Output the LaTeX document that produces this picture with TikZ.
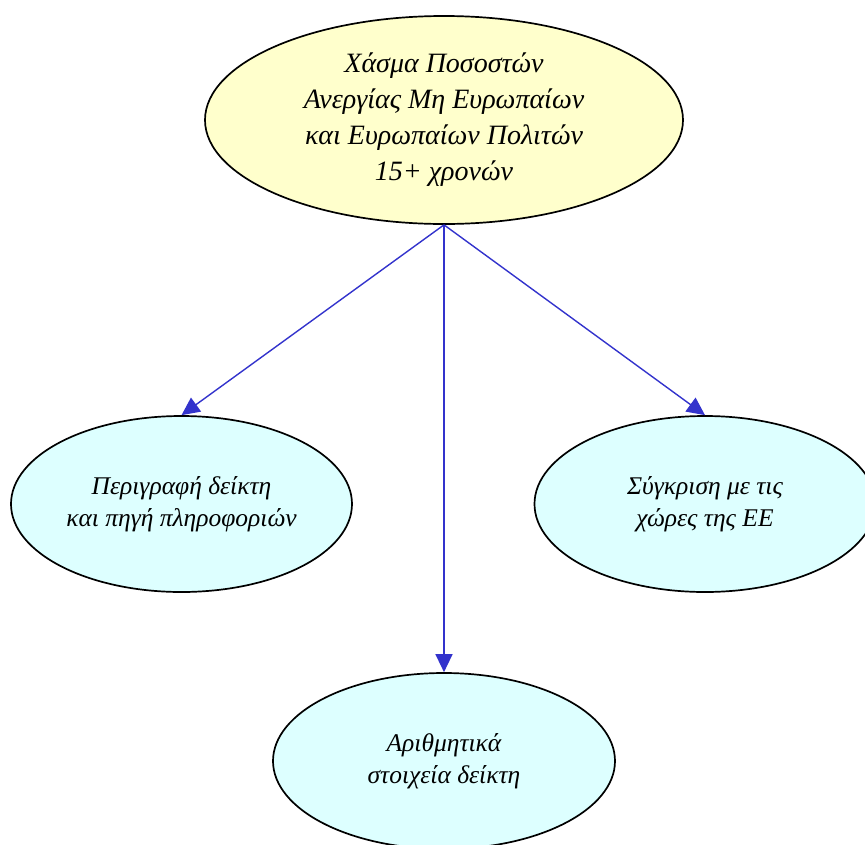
\documentclass[tikz,border=0pt]{standalone}
\usepackage{fontspec}
\setmainfont{Liberation Serif}
\usetikzlibrary{arrows.meta,shapes.geometric}
\definecolor{topyellow}{RGB}{255,255,204}
\definecolor{subcyan}{RGB}{221,255,255}
\definecolor{linkblue}{RGB}{51,51,204}

\begin{document}
\begin{tikzpicture}[x=1pt,y=-1pt,
    bubble/.style={ellipse,draw=black,line width=1.7pt,inner sep=0pt,
      align=center,font=\itshape\fontsize{25.5}{32}\selectfont},
    link/.style={linkblue,line width=1.4pt,-{Triangle[length=18pt,width=17pt]}}]
        \useasboundingbox (0,0) rectangle (865,844);
        \node[bubble,fill=topyellow,minimum width=478pt,minimum height=208pt,
          font=\itshape\fontsize{28}{36}\selectfont] (gap) at (444,120)
          {Χάσμα Ποσοστών\\Ανεργίας Μη Ευρωπαίων\\και Ευρωπαίων Πολιτών\\15+ χρονών};
        \node[bubble,fill=subcyan,minimum width=341pt,minimum height=176pt] (desc) at (181.5,504)
          {Περιγραφή δείκτη\\και πηγή πληροφοριών};
        \node[bubble,fill=subcyan,minimum width=341pt,minimum height=176pt] (comp) at (705,504)
          {Σύγκριση με τις\\χώρες της ΕΕ};
        \node[bubble,fill=subcyan,minimum width=342pt,minimum height=176pt] (nums) at (444,761)
          {Αριθμητικά\\στοιχεία δείκτη};
        \draw[link] (gap.south) -- (desc.north);
        \draw[link] (gap.south) -- (nums.north);
        \draw[link] (gap.south) -- (comp.north);
      \end{tikzpicture}
\end{document}
